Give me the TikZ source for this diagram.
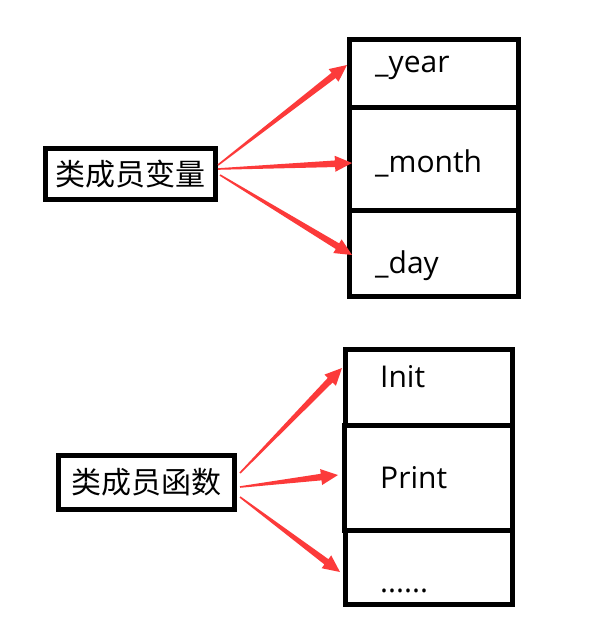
\documentclass[tikz,border=0pt]{standalone}
\usepackage{fontspec}
\setmainfont{Open Sans}
\newfontfamily\cjk{Noto Sans CJK SC}
\usetikzlibrary{calc}
\definecolor{arrowred}{RGB}{252,58,58}
\tikzset{
  cell/.style={draw=black,line width=5pt,inner sep=0pt,rectangle},
  lbl/.style={anchor=base west,inner sep=0pt,font=\fontsize{30}{36}\selectfont},
  cjkbox/.style={draw=black,line width=5pt,inner sep=0pt,rectangle,font=\cjk\fontsize{30}{36}\selectfont}
}
\newcommand\fatarrow[2]{%
  \coordinate (hb) at ($(#2)!17pt!(#1)$);
  \fill[arrowred] ($(#1)!0.8pt!90:(#2)$) -- ($(hb)!3.3pt!90:(#2)$) -- ($(hb)!8pt!90:(#2)$) -- (#2)
    -- ($(hb)!8pt!-90:(#2)$) -- ($(hb)!3.3pt!-90:(#2)$) -- ($(#1)!0.8pt!-90:(#2)$) -- cycle;
}
\begin{document}
\begin{tikzpicture}[x=1pt,y=-1pt]
\useasboundingbox[fill=white] (0,0) rectangle (603,643);
% top group
\node[cjkbox,minimum width=170pt,minimum height=51pt] (v) at (130.5,174) {类成员变量};
\node[cell,minimum width=169pt,minimum height=67.5pt] (y) at (434,73.25) {};
\node[cell,minimum width=169pt,minimum height=103pt] (m) at (434,158.5) {};
\node[cell,minimum width=169pt,minimum height=86.5pt] (d) at (434,253.25) {};
\node[lbl] (ty) at (375,72) {\_year};
\node[lbl] (tm) at (375,172) {\_month};
\node[lbl] (td) at (375,273) {\_day};
\coordinate (v1) at ($(v.east)+(0,-9)$);
\coordinate (v2) at ($(v.east)+(0,-5)$);
\coordinate (v3) at ($(v.east)+(2,1)$);
\coordinate (ey) at (347,65);
\coordinate (em) at (352,163);
\coordinate (ed) at (352,255);
\fatarrow{v1}{ey}
\fatarrow{v2}{em}
\fatarrow{v3}{ed}
% bottom group
\node[cjkbox,minimum width=176pt,minimum height=54pt] (f) at (146.5,482.5) {类成员函数};
\node[cell,minimum width=167pt,minimum height=75.5pt] (i) at (429,387.25) {};
\node[cell,minimum width=168.5pt,minimum height=105pt] (p) at (428.25,477.5) {};
\node[cell,minimum width=167pt,minimum height=74.5pt] (o) at (429,567.25) {};
\node[lbl] (ti) at (380,387) {Init};
\node[lbl] (tp) at (380,488) {Print};
\node[lbl] (to) at (380,592) {......};
\coordinate (f1) at ($(f.east)+(3,-9.5)$);
\coordinate (f2) at ($(f.east)+(3,4.5)$);
\coordinate (f3) at ($(f.east)+(3,14.5)$);
\coordinate (ei) at (342,368);
\coordinate (ep) at (338,475);
\coordinate (eo) at (340,572);
\fatarrow{f1}{ei}
\fatarrow{f2}{ep}
\fatarrow{f3}{eo}
\end{tikzpicture}
\end{document}
